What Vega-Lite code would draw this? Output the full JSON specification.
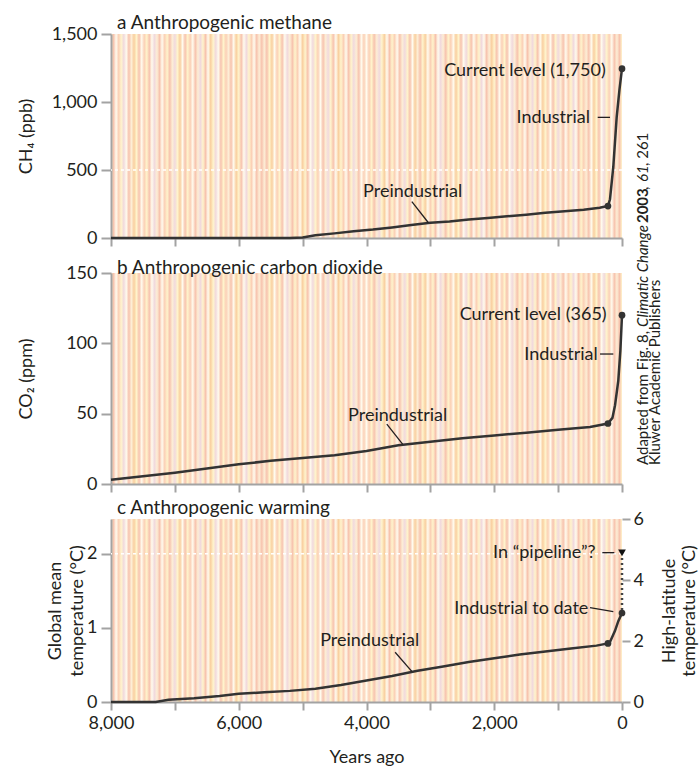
{
"$schema": "https://vega.github.io/schema/vega-lite/v6.json",
"background": "white",
"padding": {"left": 16, "top": 14, "right": 2, "bottom": 2},
"spacing": 35,
"bounds": "flush",
"config": {
  "font": "Lato",
  "view": {"stroke": null, "fill": {"gradient": "linear", "x1": 0, "y1": 0, "x2": 1, "y2": 0, "stops": [
{"offset":0,"color":"#fff4cc"},{"offset":0.005,"color":"#f7c3ae"},{"offset":0.01,"color":"#fffbee"},{"offset":0.015,"color":"#fbd0b6"},{"offset":0.02,"color":"#fff4cc"},{"offset":0.025,"color":"#f1d9dd"},{"offset":0.03,"color":"#fffbee"},{"offset":0.035,"color":"#f7c3ae"},{"offset":0.04,"color":"#fdeed6"},{"offset":0.045,"color":"#f9cf9f"},
{"offset":0.05,"color":"#fff4cc"},{"offset":0.055,"color":"#f7c3ae"},{"offset":0.06,"color":"#fffbee"},{"offset":0.065,"color":"#fbd0b6"},{"offset":0.07,"color":"#fff4cc"},{"offset":0.075,"color":"#f7c3ae"},{"offset":0.08,"color":"#fffbee"},{"offset":0.085,"color":"#f1d9dd"},{"offset":0.09,"color":"#fdeed6"},{"offset":0.095,"color":"#f7c3ae"},
{"offset":0.1,"color":"#fffbee"},{"offset":0.105,"color":"#fbd0b6"},{"offset":0.11,"color":"#fff4cc"},{"offset":0.115,"color":"#f7c3ae"},{"offset":0.12,"color":"#fdeed6"},{"offset":0.125,"color":"#f1d9dd"},{"offset":0.13,"color":"#fff4cc"},{"offset":0.135,"color":"#f9cf9f"},{"offset":0.14,"color":"#fffbee"},{"offset":0.145,"color":"#f7c3ae"},
{"offset":0.15,"color":"#fff4cc"},{"offset":0.155,"color":"#fbd0b6"},{"offset":0.16,"color":"#fffbee"},{"offset":0.165,"color":"#f7c3ae"},{"offset":0.17,"color":"#fdeed6"},{"offset":0.175,"color":"#f1d9dd"},{"offset":0.18,"color":"#fff4cc"},{"offset":0.185,"color":"#f7c3ae"},{"offset":0.19,"color":"#fffbee"},{"offset":0.195,"color":"#f9cf9f"},
{"offset":0.2,"color":"#fff4cc"},{"offset":0.205,"color":"#f1d9dd"},{"offset":0.21,"color":"#fffbee"},{"offset":0.215,"color":"#f7c3ae"},{"offset":0.22,"color":"#fff4cc"},{"offset":0.225,"color":"#fbd0b6"},{"offset":0.23,"color":"#fdeed6"},{"offset":0.235,"color":"#f7c3ae"},{"offset":0.24,"color":"#fffbee"},{"offset":0.245,"color":"#f9cf9f"},
{"offset":0.25,"color":"#fff4cc"},{"offset":0.255,"color":"#f7c3ae"},{"offset":0.26,"color":"#fffbee"},{"offset":0.265,"color":"#f1d9dd"},{"offset":0.27,"color":"#fff4cc"},{"offset":0.275,"color":"#fbd0b6"},{"offset":0.28,"color":"#fffbee"},{"offset":0.285,"color":"#f7c3ae"},{"offset":0.29,"color":"#fdeed6"},{"offset":0.295,"color":"#f7c3ae"},
{"offset":0.3,"color":"#fdeed6"},{"offset":0.305,"color":"#f7c3ae"},{"offset":0.31,"color":"#fff4cc"},{"offset":0.315,"color":"#f9cf9f"},{"offset":0.32,"color":"#fffbee"},{"offset":0.325,"color":"#fbd0b6"},{"offset":0.33,"color":"#fff4cc"},{"offset":0.335,"color":"#f7c3ae"},{"offset":0.34,"color":"#fffbee"},{"offset":0.345,"color":"#f1d9dd"},
{"offset":0.35,"color":"#fdeed6"},{"offset":0.355,"color":"#f7c3ae"},{"offset":0.36,"color":"#fff4cc"},{"offset":0.365,"color":"#fbd0b6"},{"offset":0.37,"color":"#fffbee"},{"offset":0.375,"color":"#f9cf9f"},{"offset":0.38,"color":"#fff4cc"},{"offset":0.385,"color":"#f7c3ae"},{"offset":0.39,"color":"#fffbee"},{"offset":0.395,"color":"#f1d9dd"},
{"offset":0.4,"color":"#fff4cc"},{"offset":0.405,"color":"#fbd0b6"},{"offset":0.41,"color":"#fffbee"},{"offset":0.415,"color":"#f7c3ae"},{"offset":0.42,"color":"#fdeed6"},{"offset":0.425,"color":"#f1d9dd"},{"offset":0.43,"color":"#fff4cc"},{"offset":0.435,"color":"#f7c3ae"},{"offset":0.44,"color":"#fffbee"},{"offset":0.445,"color":"#f9cf9f"},
{"offset":0.45,"color":"#fff4cc"},{"offset":0.455,"color":"#fbd0b6"},{"offset":0.46,"color":"#fffbee"},{"offset":0.465,"color":"#f7c3ae"},{"offset":0.47,"color":"#fff4cc"},{"offset":0.475,"color":"#f1d9dd"},{"offset":0.48,"color":"#fdeed6"},{"offset":0.485,"color":"#f7c3ae"},{"offset":0.49,"color":"#fffbee"},{"offset":0.495,"color":"#fbd0b6"},
{"offset":0.5,"color":"#fffbee"},{"offset":0.505,"color":"#fbd0b6"},{"offset":0.51,"color":"#fff4cc"},{"offset":0.515,"color":"#f7c3ae"},{"offset":0.52,"color":"#fdeed6"},{"offset":0.525,"color":"#f1d9dd"},{"offset":0.53,"color":"#fff4cc"},{"offset":0.535,"color":"#f9cf9f"},{"offset":0.54,"color":"#fffbee"},{"offset":0.545,"color":"#f7c3ae"},
{"offset":0.55,"color":"#fff4cc"},{"offset":0.555,"color":"#fbd0b6"},{"offset":0.56,"color":"#fffbee"},{"offset":0.565,"color":"#f7c3ae"},{"offset":0.57,"color":"#fdeed6"},{"offset":0.575,"color":"#f1d9dd"},{"offset":0.58,"color":"#fff4cc"},{"offset":0.585,"color":"#f7c3ae"},{"offset":0.59,"color":"#fffbee"},{"offset":0.595,"color":"#f9cf9f"},
{"offset":0.6,"color":"#fdeed6"},{"offset":0.605,"color":"#f7c3ae"},{"offset":0.61,"color":"#fff4cc"},{"offset":0.615,"color":"#f9cf9f"},{"offset":0.62,"color":"#fffbee"},{"offset":0.625,"color":"#fbd0b6"},{"offset":0.63,"color":"#fff4cc"},{"offset":0.635,"color":"#f7c3ae"},{"offset":0.64,"color":"#fffbee"},{"offset":0.645,"color":"#f1d9dd"},
{"offset":0.65,"color":"#fdeed6"},{"offset":0.655,"color":"#f7c3ae"},{"offset":0.66,"color":"#fff4cc"},{"offset":0.665,"color":"#fbd0b6"},{"offset":0.67,"color":"#fffbee"},{"offset":0.675,"color":"#f9cf9f"},{"offset":0.68,"color":"#fff4cc"},{"offset":0.685,"color":"#f7c3ae"},{"offset":0.69,"color":"#fffbee"},{"offset":0.695,"color":"#f1d9dd"},
{"offset":0.7,"color":"#fff4cc"},{"offset":0.705,"color":"#f7c3ae"},{"offset":0.71,"color":"#fffbee"},{"offset":0.715,"color":"#fbd0b6"},{"offset":0.72,"color":"#fff4cc"},{"offset":0.725,"color":"#f1d9dd"},{"offset":0.73,"color":"#fffbee"},{"offset":0.735,"color":"#f7c3ae"},{"offset":0.74,"color":"#fdeed6"},{"offset":0.745,"color":"#f9cf9f"},
{"offset":0.75,"color":"#fff4cc"},{"offset":0.755,"color":"#f7c3ae"},{"offset":0.76,"color":"#fffbee"},{"offset":0.765,"color":"#fbd0b6"},{"offset":0.77,"color":"#fff4cc"},{"offset":0.775,"color":"#f7c3ae"},{"offset":0.78,"color":"#fffbee"},{"offset":0.785,"color":"#f1d9dd"},{"offset":0.79,"color":"#fdeed6"},{"offset":0.795,"color":"#f7c3ae"},
{"offset":0.8,"color":"#fff4cc"},{"offset":0.805,"color":"#fbd0b6"},{"offset":0.81,"color":"#fffbee"},{"offset":0.815,"color":"#f7c3ae"},{"offset":0.82,"color":"#fdeed6"},{"offset":0.825,"color":"#f1d9dd"},{"offset":0.83,"color":"#fff4cc"},{"offset":0.835,"color":"#f7c3ae"},{"offset":0.84,"color":"#fffbee"},{"offset":0.845,"color":"#f9cf9f"},
{"offset":0.85,"color":"#fff4cc"},{"offset":0.855,"color":"#fbd0b6"},{"offset":0.86,"color":"#fffbee"},{"offset":0.865,"color":"#f7c3ae"},{"offset":0.87,"color":"#fff4cc"},{"offset":0.875,"color":"#f1d9dd"},{"offset":0.88,"color":"#fdeed6"},{"offset":0.885,"color":"#f7c3ae"},{"offset":0.89,"color":"#fffbee"},{"offset":0.895,"color":"#fbd0b6"},
{"offset":0.9,"color":"#fff4cc"},{"offset":0.905,"color":"#f1d9dd"},{"offset":0.91,"color":"#fffbee"},{"offset":0.915,"color":"#f7c3ae"},{"offset":0.92,"color":"#fff4cc"},{"offset":0.925,"color":"#fbd0b6"},{"offset":0.93,"color":"#fdeed6"},{"offset":0.935,"color":"#f7c3ae"},{"offset":0.94,"color":"#fffbee"},{"offset":0.945,"color":"#f9cf9f"},
{"offset":0.95,"color":"#fff4cc"},{"offset":0.955,"color":"#f7c3ae"},{"offset":0.96,"color":"#fffbee"},{"offset":0.965,"color":"#f1d9dd"},{"offset":0.97,"color":"#fff4cc"},{"offset":0.975,"color":"#fbd0b6"},{"offset":0.98,"color":"#fffbee"},{"offset":0.985,"color":"#f7c3ae"},{"offset":0.99,"color":"#fdeed6"},{"offset":0.995,"color":"#f7c3ae"},
{"offset":1,"color":"#fff4cc"}]}},
  "axis": {"domainColor": "#a3a3a3", "domainWidth": 2, "tickColor": "#a3a3a3", "tickWidth": 2, "tickSize": 8, "labelFont": "Lato", "labelFontSize": 18, "labelColor": "#231f20", "titleFont": "Lato", "titleFontSize": 18, "titleFontWeight": "normal", "titleColor": "#231f20", "grid": false, "labelPadding": 4, "labelFlush": false},
  "title": {"font": "Lato", "fontSize": 19, "fontWeight": "normal", "color": "#231f20", "anchor": "start", "frame": "group", "dx": 6, "baseline": "alphabetic"},
  "text": {"font": "Lato", "fontSize": 18, "color": "#231f20"}
},
"datasets": {
  "methane": [{"year":8000,"value":0},{"year":7000,"value":0},{"year":6000,"value":0},{"year":5200,"value":0},{"year":5000,"value":4},{"year":4800,"value":20},{"year":4500,"value":34},{"year":4200,"value":50},{"year":3900,"value":62},{"year":3600,"value":78},{"year":3300,"value":95},{"year":3000,"value":112},{"year":2700,"value":122},{"year":2400,"value":136},{"year":2100,"value":147},{"year":1800,"value":160},{"year":1500,"value":171},{"year":1200,"value":185},{"year":900,"value":196},{"year":600,"value":208},{"year":350,"value":222},{"year":220,"value":235},{"year":188,"value":285},{"year":136,"value":524},{"year":83,"value":890},{"year":40,"value":1090},{"year":0,"value":1245}],
  "co2": [{"year":8000,"value":3},{"year":7500,"value":5.5},{"year":7000,"value":8},{"year":6500,"value":11},{"year":6000,"value":14},{"year":5500,"value":16.5},{"year":5000,"value":18.5},{"year":4500,"value":20.5},{"year":4000,"value":23.5},{"year":3500,"value":27.5},{"year":3000,"value":30},{"year":2500,"value":32.5},{"year":2000,"value":34.5},{"year":1500,"value":36.5},{"year":1000,"value":38.5},{"year":500,"value":40.5},{"year":220,"value":43},{"year":150,"value":47},{"year":109,"value":56},{"year":58,"value":73.5},{"year":25,"value":95},{"year":0,"value":120}],
  "temp": [{"year":8000,"value":0},{"year":7300,"value":0},{"year":7100,"value":0.03},{"year":6700,"value":0.05},{"year":6300,"value":0.08},{"year":6000,"value":0.11},{"year":5600,"value":0.13},{"year":5200,"value":0.15},{"year":4800,"value":0.18},{"year":4400,"value":0.23},{"year":4000,"value":0.29},{"year":3600,"value":0.35},{"year":3200,"value":0.42},{"year":2800,"value":0.48},{"year":2400,"value":0.54},{"year":2000,"value":0.59},{"year":1600,"value":0.64},{"year":1200,"value":0.68},{"year":800,"value":0.72},{"year":400,"value":0.76},{"year":220,"value":0.79},{"year":188,"value":0.81},{"year":110,"value":0.96},{"year":58,"value":1.09},{"year":0,"value":1.2}]
},
"vconcat": [
{
  "width": 511, "height": 204,
  "title": {"text": "a Anthropogenic methane", "offset": -8},
  "layer": [
    {"data": {"values": [{}]}, "mark": {"type": "rule", "color": "white", "strokeDash": [3, 3], "strokeWidth": 1.5}, "encoding": {"y": {"datum": 500}}},
    {"data": {"name": "methane"}, "mark": {"type": "line", "color": "#333333", "strokeWidth": 2.5},
     "encoding": {
       "x": {"field": "year", "type": "quantitative", "scale": {"domain": [0, 8000], "reverse": true, "nice": false, "zero": false},
             "axis": {"values": [0,1000,2000,3000,4000,5000,6000,7000,8000], "labels": false, "title": null}},
       "y": {"field": "value", "type": "quantitative", "scale": {"domain": [0, 1500], "nice": false},
             "axis": {"values": [0, 500, 1000, 1500], "labelExpr": "format(datum.value, ',')", "title": "CH₄ (ppb)", "titleX": -76, "titleY": 102, "tickSize": 10}}
     }},
    {"data": {"name": "methane"}, "transform": [{"filter": "datum.year == 0 || datum.year == 220"}], "mark": {"type": "circle", "color": "#333333", "size": 45, "opacity": 1},
     "encoding": {"x": {"field": "year", "type": "quantitative"}, "y": {"field": "value", "type": "quantitative"}}},
    {"data": {"values": [{}]}, "mark": {"type": "text", "text": "Current level (1,750)", "align": "right", "baseline": "alphabetic"}, "encoding": {"x": {"datum": 255}, "y": {"datum": 1191}}},
    {"data": {"values": [{}]}, "mark": {"type": "text", "text": "Industrial", "align": "right", "baseline": "alphabetic"}, "encoding": {"x": {"datum": 501}, "y": {"datum": 845}}},
    {"data": {"values": [{}]}, "mark": {"type": "rule", "color": "#231f20", "strokeWidth": 1.3}, "encoding": {"x": {"datum": 380}, "x2": {"datum": 188}, "y": {"datum": 887}, "y2": {"datum": 887}}},
    {"data": {"values": [{}]}, "mark": {"type": "text", "text": "Preindustrial", "align": "left", "baseline": "alphabetic"}, "encoding": {"x": {"datum": 4053}, "y": {"datum": 301}}},
    {"data": {"values": [{}]}, "mark": {"type": "rule", "color": "#231f20", "strokeWidth": 1.3}, "encoding": {"x": {"datum": 3290}, "x2": {"datum": 3031}, "y": {"datum": 267}, "y2": {"datum": 112}}},
    {"data": {"values": [{}]}, "mark": {"type": "text", "text": "Adapted from Fig. 8,", "angle": 270, "align": "left", "baseline": "middle", "fontSize": 15}, "encoding": {"x": {"datum": -329}, "y": {"datum": -1669}}},
    {"data": {"values": [{}]}, "mark": {"type": "text", "text": "Climatic Change", "angle": 270, "align": "left", "baseline": "middle", "fontSize": 15, "fontStyle": "italic"}, "encoding": {"x": {"datum": -329}, "y": {"datum": -654}}},
    {"data": {"values": [{}]}, "mark": {"type": "text", "text": "2003", "angle": 270, "align": "left", "baseline": "middle", "fontSize": 15, "fontWeight": "bold"}, "encoding": {"x": {"datum": -329}, "y": {"datum": 110}}},
    {"data": {"values": [{}]}, "mark": {"type": "text", "text": ",", "angle": 270, "align": "left", "baseline": "middle", "fontSize": 15}, "encoding": {"x": {"datum": -329}, "y": {"datum": 353}}},
    {"data": {"values": [{}]}, "mark": {"type": "text", "text": "61", "angle": 270, "align": "left", "baseline": "middle", "fontSize": 15, "fontStyle": "italic"}, "encoding": {"x": {"datum": -329}, "y": {"datum": 412}}},
    {"data": {"values": [{}]}, "mark": {"type": "text", "text": ", 261", "angle": 270, "align": "left", "baseline": "middle", "fontSize": 15}, "encoding": {"x": {"datum": -329}, "y": {"datum": 529}}},
    {"data": {"values": [{}]}, "mark": {"type": "text", "text": "Kluwer Academic Publishers", "angle": 270, "align": "left", "baseline": "middle", "fontSize": 15}, "encoding": {"x": {"datum": -517}, "y": {"datum": -1669}}}
  ]
},
{
  "width": 511, "height": 211,
  "title": {"text": "b Anthropogenic carbon dioxide", "offset": -14},
  "layer": [
    {"data": {"name": "co2"}, "mark": {"type": "line", "color": "#333333", "strokeWidth": 2.5},
     "encoding": {
       "x": {"field": "year", "type": "quantitative", "scale": {"domain": [0, 8000], "reverse": true, "nice": false, "zero": false},
             "axis": {"values": [0,1000,2000,3000,4000,5000,6000,7000,8000], "labels": false, "title": null}},
       "y": {"field": "value", "type": "quantitative", "scale": {"domain": [0, 150], "nice": false},
             "axis": {"values": [0, 50, 100, 150], "labelExpr": "format(datum.value, 'd')", "title": "CO₂ (ppm)", "titleX": -76, "titleY": 105.5, "tickSize": 10}}
     }},
    {"data": {"name": "co2"}, "transform": [{"filter": "datum.year == 0 || datum.year == 220"}], "mark": {"type": "circle", "color": "#333333", "size": 45, "opacity": 1},
     "encoding": {"x": {"field": "year", "type": "quantitative"}, "y": {"field": "value", "type": "quantitative"}}},
    {"data": {"values": [{}]}, "mark": {"type": "text", "text": "Current level (365)", "align": "right", "baseline": "alphabetic"}, "encoding": {"x": {"datum": 240}, "y": {"datum": 116.3}}},
    {"data": {"values": [{}]}, "mark": {"type": "text", "text": "Industrial", "align": "right", "baseline": "alphabetic"}, "encoding": {"x": {"datum": 380}, "y": {"datum": 88}}},
    {"data": {"values": [{}]}, "mark": {"type": "rule", "color": "#231f20", "strokeWidth": 1.3}, "encoding": {"x": {"datum": 344}, "x2": {"datum": 136}, "y": {"datum": 92.4}, "y2": {"datum": 92.4}}},
    {"data": {"values": [{}]}, "mark": {"type": "text", "text": "Preindustrial", "align": "left", "baseline": "alphabetic"}, "encoding": {"x": {"datum": 4288}, "y": {"datum": 45}}},
    {"data": {"values": [{}]}, "mark": {"type": "rule", "color": "#231f20", "strokeWidth": 1.3}, "encoding": {"x": {"datum": 3682}, "x2": {"datum": 3432}, "y": {"datum": 42.6}, "y2": {"datum": 28.2}}}
  ]
},
{
  "width": 511, "height": 183,
  "title": {"text": "c Anthropogenic warming", "offset": -8},
  "layer": [
    {"layer": [
      {"data": {"values": [{}]}, "mark": {"type": "rule", "color": "white", "strokeDash": [3, 3], "strokeWidth": 1.5}, "encoding": {"y": {"datum": 2}}},
      {"data": {"name": "temp"}, "mark": {"type": "line", "color": "#333333", "strokeWidth": 2.5},
       "encoding": {
         "x": {"field": "year", "type": "quantitative", "scale": {"domain": [0, 8000], "reverse": true, "nice": false, "zero": false},
               "axis": {"values": [0,1000,2000,3000,4000,5000,6000,7000,8000], "labelExpr": "datum.value % 2000 === 0 ? format(datum.value, ',') : ''", "title": "Years ago", "titlePadding": 16}},
         "y": {"field": "value", "type": "quantitative", "scale": {"domain": [0, 2.467], "nice": false},
               "axis": {"values": [0, 1, 2], "labelExpr": "format(datum.value, 'd')", "title": ["Global mean", "temperature (°C)"], "titleLineHeight": 22, "titleX": -47, "titleY": 91.5, "tickSize": 10}}
       }},
      {"data": {"name": "temp"}, "transform": [{"filter": "datum.year == 0 || datum.year == 220"}], "mark": {"type": "circle", "color": "#333333", "size": 45, "opacity": 1},
       "encoding": {"x": {"field": "year", "type": "quantitative"}, "y": {"field": "value", "type": "quantitative"}}},
      {"data": {"values": [{}]}, "mark": {"type": "rule", "color": "#444444", "strokeWidth": 2.5, "strokeDash": [2, 3]}, "encoding": {"x": {"datum": 0}, "y": {"datum": 1.24}, "y2": {"datum": 1.95}}},
      {"data": {"values": [{}]}, "mark": {"type": "point", "shape": "triangle-down", "filled": true, "color": "#111111", "size": 60, "opacity": 1}, "encoding": {"x": {"datum": 0}, "y": {"datum": 2.01}}},
      {"data": {"values": [{}]}, "mark": {"type": "text", "text": "In “pipeline”?", "align": "right", "baseline": "alphabetic"}, "encoding": {"x": {"datum": 412}, "y": {"datum": 1.937}}},
      {"data": {"values": [{}]}, "mark": {"type": "rule", "color": "#231f20", "strokeWidth": 1.3}, "encoding": {"x": {"datum": 308}, "x2": {"datum": 120}, "y": {"datum": 2.013}, "y2": {"datum": 2.013}}},
      {"data": {"values": [{}]}, "mark": {"type": "text", "text": "Industrial to date", "align": "right", "baseline": "alphabetic"}, "encoding": {"x": {"datum": 527}, "y": {"datum": 1.19}}},
      {"data": {"values": [{}]}, "mark": {"type": "rule", "color": "#231f20", "strokeWidth": 1.3}, "encoding": {"x": {"datum": 501}, "x2": {"datum": 136}, "y": {"datum": 1.271}, "y2": {"datum": 1.217}}},
      {"data": {"values": [{}]}, "mark": {"type": "text", "text": "Preindustrial", "align": "left", "baseline": "alphabetic"}, "encoding": {"x": {"datum": 4726}, "y": {"datum": 0.75}}},
      {"data": {"values": [{}]}, "mark": {"type": "rule", "color": "#231f20", "strokeWidth": 1.3}, "encoding": {"x": {"datum": 3552}, "x2": {"datum": 3291}, "y": {"datum": 0.671}, "y2": {"datum": 0.413}}}
    ]},
    {"data": {"values": [{}]}, "mark": {"type": "point", "opacity": 0},
     "encoding": {"y": {"datum": 0, "type": "quantitative", "scale": {"domain": [0, 6], "nice": false},
       "axis": {"orient": "right", "values": [0, 2, 4, 6], "labelExpr": "format(datum.value, 'd')", "title": ["High-latitude", "temperature (°C)"], "titleAngle": 270, "titleBaseline": "top", "titleLineHeight": 20, "titleX": 38, "titleY": 91.5, "domain": false, "labelPadding": 3}}}}
  ],
  "resolve": {"scale": {"y": "independent"}}
}
]
}
